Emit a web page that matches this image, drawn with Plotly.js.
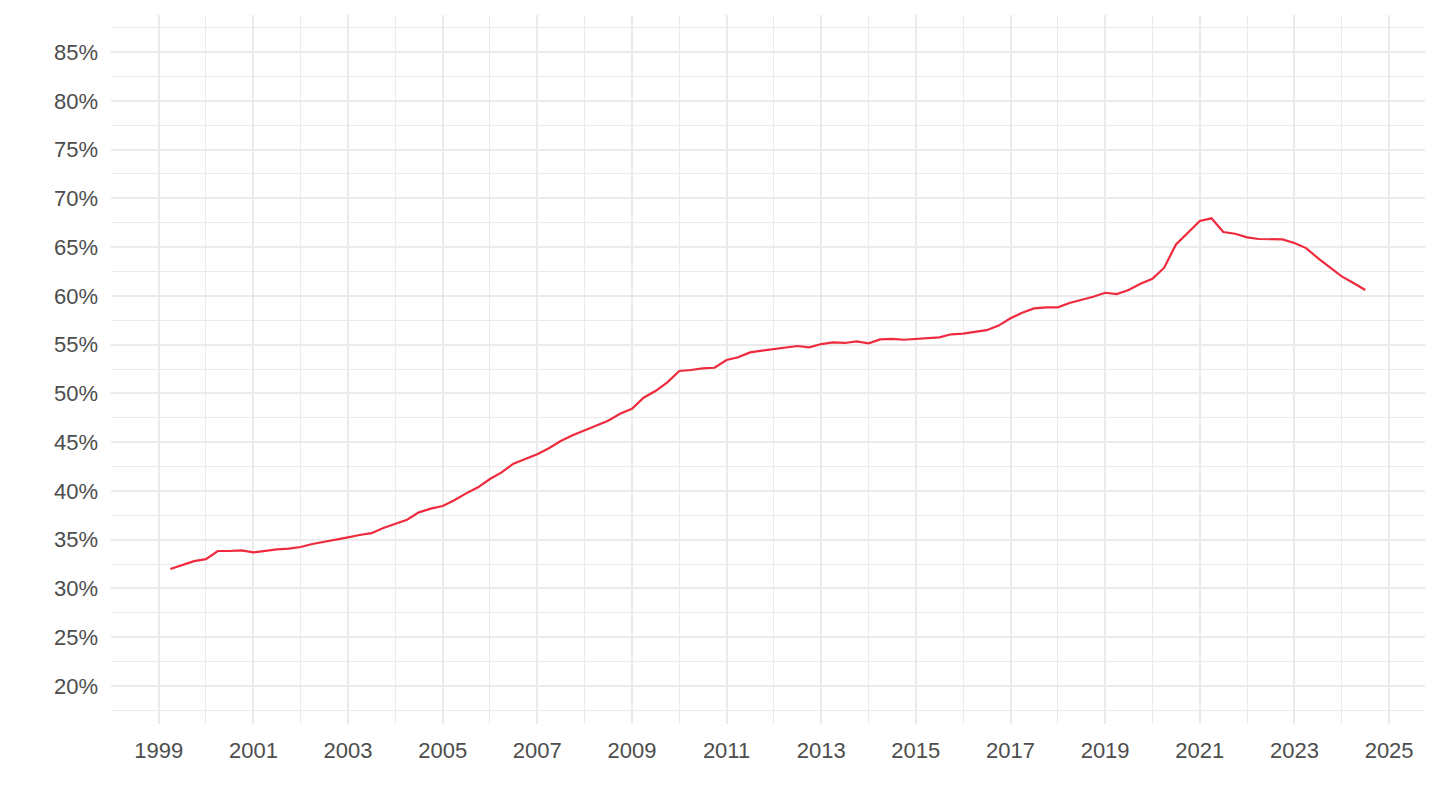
<!DOCTYPE html>
<html>
<head>
<meta charset="utf-8">
<script src="https://cdn.plot.ly/plotly-3.0.1.min.js"></script>
<style>
html,body{margin:0;padding:0;background:#fff;}
#chart{width:1440px;height:810px;}
</style>
</head>
<body>
<div id="chart"></div>
<script>
// Quarterly observations, 1999 Q2 to 2024 Q3 (values in %)
const startYear = 1999;
const startQuarter = 2;
const values = [
  32.0, 32.4, 32.8,
  33.0, 33.84, 33.84, 33.9,
  33.7, 33.87, 34.0, 34.08,
  34.25, 34.56, 34.76, 35.04,
  35.24, 35.48, 35.67, 36.2,
  36.64, 37.05, 37.8, 38.18,
  38.45, 39.04, 39.75, 40.37,
  41.22, 41.9, 42.79, 43.27,
  43.75, 44.37, 45.12, 45.7,
  46.2, 46.66, 47.2, 47.92,
  48.43, 49.56, 50.24, 51.13,
  52.3, 52.4, 52.57, 52.63,
  53.42, 53.7, 54.2, 54.38,
  54.56, 54.75, 54.86, 54.72,
  55.06, 55.24, 55.17, 55.34,
  55.13, 55.54, 55.58, 55.5,
  55.58, 55.65, 55.75, 56.06,
  56.12, 56.3, 56.48, 56.95,
  57.7, 58.27, 58.72, 58.82,
  58.82, 59.27, 59.57, 59.91,
  60.32, 60.19, 60.6, 61.25,
  61.76, 62.89, 65.28, 66.5,
  67.68, 67.95, 66.55, 66.37,
  66.0, 65.83, 65.79, 65.79,
  65.42, 64.9, 63.88, 62.96,
  62.0, 61.32, 60.6
];
const yTickVals = [20,25,30,35,40,45,50,55,60,65,70,75,80,85];
const yTickText = yTickVals.map(v => v + '%');
const xTickYears = [1999,2001,2003,2005,2007,2009,2011,2013,2015,2017,2019,2021,2023,2025];

const dates = values.map((v, i) => {
  const q = startQuarter - 1 + i;
  const y = startYear + Math.floor(q / 4);
  const m = (q % 4) * 3 + 1;
  return y + '-' + String(m).padStart(2, '0') + '-01';
});

const trace = {
  x: dates,
  y: values,
  type: 'scatter',
  mode: 'lines',
  line: {color: '#EE2A3C', width: 2.2},
  hoverinfo: 'x+y'
};

const gridColor = '#EBEBEB';
const layout = {
  width: 1440,
  height: 810,
  margin: {l: 111, r: 15, t: 15, b: 86},
  paper_bgcolor: '#fff',
  plot_bgcolor: '#fff',
  showlegend: false,
  font: {family: 'Liberation Sans, Arial, sans-serif', color: '#4D4D4D', size: 22},
  xaxis: {
    type: 'date',
    range: ['1997-12-29', '2025-10-05'],
    tickvals: xTickYears.map(y => y + '-01-01'),
    ticktext: xTickYears.map(String),
    showgrid: true,
    gridcolor: gridColor,
    gridwidth: 2,
    zeroline: false,
    showline: false,
    ticks: '',
    ticklabelstandoff: 11,
    tickfont: {size: 22, color: '#4D4D4D'},
    minor: {dtick: 'M24', tick0: '1998-01-01', showgrid: true, gridcolor: gridColor, gridwidth: 1}
  },
  yaxis: {
    range: [16.1, 88.8],
    tickvals: yTickVals,
    ticktext: yTickText,
    showgrid: true,
    gridcolor: gridColor,
    gridwidth: 2,
    zeroline: false,
    showline: false,
    ticks: '',
    ticklabelstandoff: 12,
    tickfont: {size: 22, color: '#4D4D4D'},
    minor: {dtick: 5, tick0: 17.5, showgrid: true, gridcolor: gridColor, gridwidth: 1}
  }
};

Plotly.newPlot('chart', [trace], layout, {displayModeBar: false, staticPlot: true});
</script>
</body>
</html>
